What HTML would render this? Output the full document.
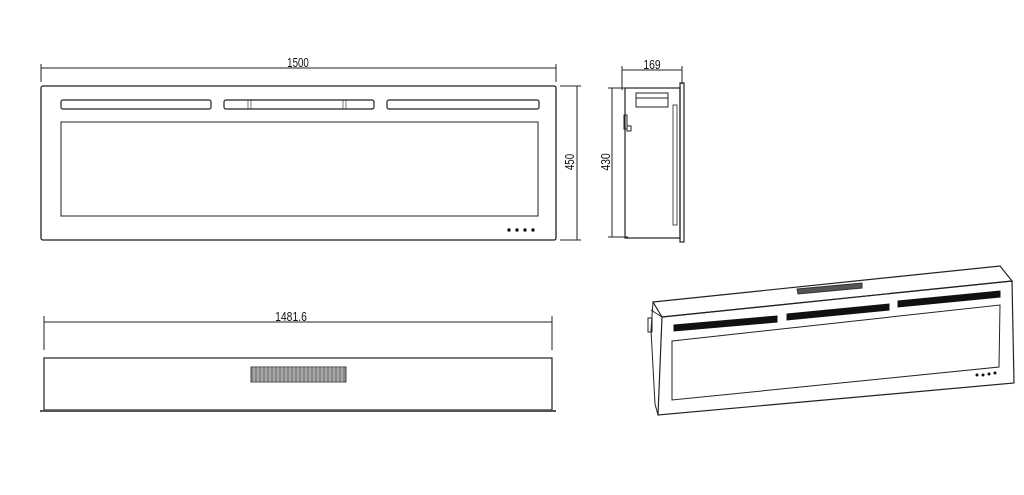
<!DOCTYPE html>
<html><head><meta charset="utf-8"><style>
html,body{margin:0;padding:0;background:#fff;width:1024px;height:495px;overflow:hidden}
svg{display:block}
text{font-family:"Liberation Sans",sans-serif;fill:#111}
</style></head><body>
<svg width="1024" height="495" viewBox="0 0 1024 495" fill="none" stroke="#222" stroke-width="1">
<!-- front view -->
<line x1="41" y1="68" x2="556" y2="68"/>
<line x1="41" y1="64" x2="41" y2="82"/><line x1="556" y1="64" x2="556" y2="82"/>
<text x="0" y="0" font-size="13" text-anchor="middle" transform="translate(298,67) scale(0.75,1)" stroke="none">1500</text>
<rect x="41" y="86" width="515" height="154" rx="2" stroke-width="1.3"/>
<rect x="61" y="100" width="150" height="9" rx="2" stroke-width="1.2"/>
<rect x="224" y="100" width="150" height="9" rx="2" stroke-width="1.2"/>
<rect x="387" y="100" width="152" height="9" rx="2" stroke-width="1.2"/>
<line x1="248" y1="100" x2="248" y2="109" stroke-width="0.6"/><line x1="251" y1="100" x2="251" y2="109" stroke-width="0.6"/>
<line x1="343" y1="100" x2="343" y2="109" stroke-width="0.6"/><line x1="346" y1="100" x2="346" y2="109" stroke-width="0.6"/>
<rect x="61" y="122" width="477" height="94" stroke-width="1"/>
<g fill="#111" stroke="none"><circle cx="509" cy="230" r="1.7"/><circle cx="517" cy="230" r="1.7"/><circle cx="525" cy="230" r="1.7"/><circle cx="533" cy="230" r="1.7"/></g>
<line x1="577" y1="86" x2="577" y2="240"/>
<line x1="560" y1="86" x2="581" y2="86"/><line x1="560" y1="240" x2="581" y2="240"/>
<text x="0" y="0" font-size="13" text-anchor="middle" transform="translate(574,162) rotate(-90) scale(0.75,1)" stroke="none">450</text>
<!-- side view -->
<line x1="622" y1="70" x2="682" y2="70"/>
<line x1="622" y1="66" x2="622" y2="90"/><line x1="682" y1="66" x2="682" y2="84"/>
<text x="0" y="0" font-size="13" text-anchor="middle" transform="translate(652,69) scale(0.8,1)" stroke="none">169</text>
<line x1="612" y1="88" x2="612" y2="237"/>
<line x1="608" y1="88" x2="628" y2="88"/><line x1="608" y1="237" x2="628" y2="237"/>
<text x="0" y="0" font-size="13" text-anchor="middle" transform="translate(610,162) rotate(-90) scale(0.8,1)" stroke="none">430</text>
<rect x="625" y="88" width="55" height="150" stroke-width="1.2"/>
<rect x="680" y="83" width="4" height="159" stroke-width="1.2"/>
<rect x="636" y="93" width="32" height="14"/><line x1="636" y1="98" x2="668" y2="98"/>
<rect x="673" y="105" width="4" height="120" stroke-width="0.8"/>
<rect x="624" y="115" width="3" height="14"/><rect x="627" y="126" width="4" height="5"/>
<!-- bottom view -->
<line x1="44" y1="322" x2="552" y2="322"/>
<line x1="44" y1="316" x2="44" y2="350"/><line x1="552" y1="316" x2="552" y2="350"/>
<text x="0" y="0" font-size="13" text-anchor="middle" transform="translate(291,321) scale(0.8,1)" stroke="none">1481.6</text>
<rect x="44" y="358" width="508" height="52" stroke-width="1.2"/>
<line x1="40" y1="411" x2="556" y2="411" stroke-width="2" stroke="#555"/>
<rect x="251" y="367" width="95" height="15" fill="#888" stroke="#444"/>
<g stroke="#eee" stroke-width="0.6">
<line x1="254" y1="367" x2="254" y2="382"/><line x1="258" y1="367" x2="258" y2="382"/><line x1="262" y1="367" x2="262" y2="382"/><line x1="266" y1="367" x2="266" y2="382"/><line x1="270" y1="367" x2="270" y2="382"/><line x1="274" y1="367" x2="274" y2="382"/><line x1="278" y1="367" x2="278" y2="382"/><line x1="282" y1="367" x2="282" y2="382"/><line x1="286" y1="367" x2="286" y2="382"/><line x1="290" y1="367" x2="290" y2="382"/><line x1="294" y1="367" x2="294" y2="382"/><line x1="298" y1="367" x2="298" y2="382"/><line x1="302" y1="367" x2="302" y2="382"/><line x1="306" y1="367" x2="306" y2="382"/><line x1="310" y1="367" x2="310" y2="382"/><line x1="314" y1="367" x2="314" y2="382"/><line x1="318" y1="367" x2="318" y2="382"/><line x1="322" y1="367" x2="322" y2="382"/><line x1="326" y1="367" x2="326" y2="382"/><line x1="330" y1="367" x2="330" y2="382"/><line x1="334" y1="367" x2="334" y2="382"/><line x1="338" y1="367" x2="338" y2="382"/><line x1="342" y1="367" x2="342" y2="382"/>
</g>
<!-- perspective -->
<polygon points="653,302 1000,266 1012,281 662,317" stroke-width="1.2"/>
<polygon points="662,317 1012,281 1014,383 658,415" stroke-width="1.2"/>
<polyline points="653,302 651,330 655,404 658,415" stroke-width="1"/>
<line x1="651" y1="310" x2="662" y2="317"/>
<rect x="648" y="318" width="4" height="14"/>
<polygon points="797,289 862,283 862,288 798,294" fill="#555" stroke="#333"/>
<polygon points="674,325 777,316 777,322 674,331" fill="#111" stroke="#111"/>
<polygon points="787,314 889,304 889,310 787,320" fill="#111" stroke="#111"/>
<polygon points="898,301 1000,291 1000,297 898,307" fill="#111" stroke="#111"/>
<polygon points="672,341 1000,305 999,367 672,400" stroke-width="1"/>
<g fill="#111" stroke="none"><circle cx="977" cy="375" r="1.5"/><circle cx="983" cy="375" r="1.5"/><circle cx="989" cy="374" r="1.5"/><circle cx="995" cy="373" r="1.5"/></g>
</svg>
</body></html>
